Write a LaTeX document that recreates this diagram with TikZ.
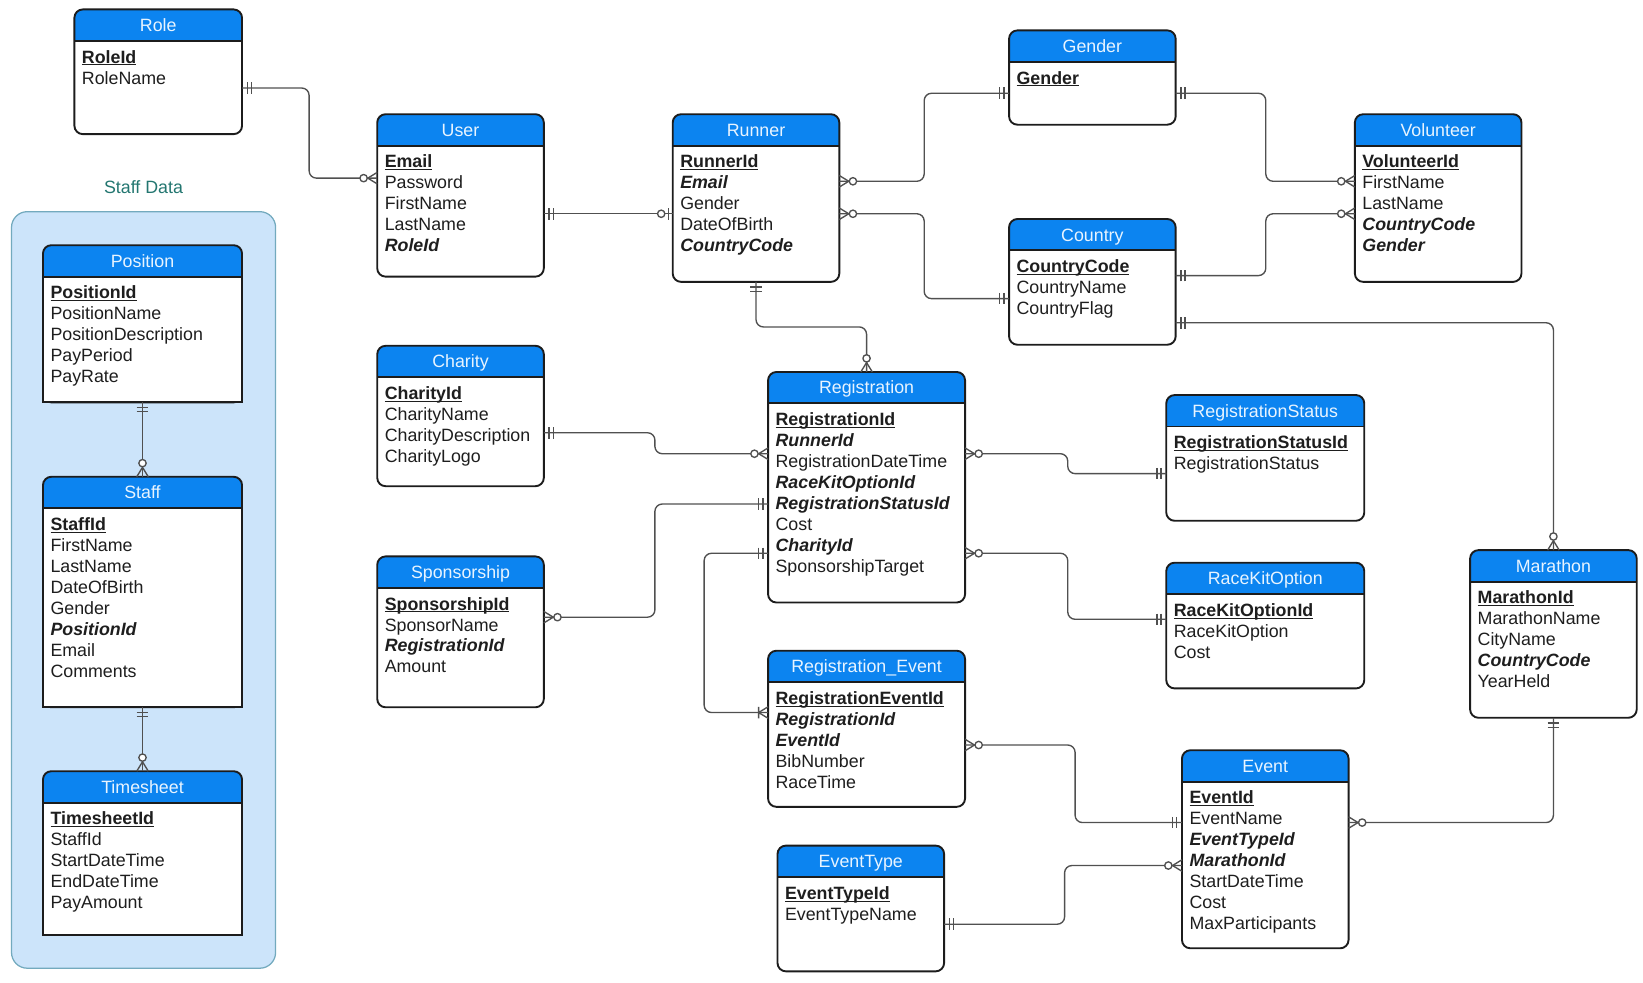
\documentclass[tikz,border=0pt]{standalone}
\usepackage{fontspec}
\setmainfont{Liberation Sans}

\definecolor{hdrblue}{RGB}{12,132,240}
\definecolor{hdrtext}{RGB}{232,244,255}
\definecolor{tblborder}{RGB}{28,28,28}
\definecolor{fieldtext}{RGB}{30,30,30}
\definecolor{connline}{RGB}{80,80,80}
\definecolor{panelfill}{RGB}{204,228,250}
\definecolor{panelborder}{RGB}{115,170,190}
\definecolor{paneltext}{RGB}{35,118,112}

\newcommand\fieldfont{\fontsize{17}{20}\selectfont}
\newcommand\pk[1]{\underline{\smash{\textbf{#1}}}}
\newcommand\fk[1]{\textbf{\textit{#1}}}

%% crow's foot ends
\pgfdeclarearrow{
  name = one,
  parameters = {\the\pgflinewidth},
  setup code = {
    \pgfarrowssettipend{0pt}
    \pgfarrowssetlineend{0pt}
    \pgfarrowssetbackend{-10pt}
    \pgfarrowshullpoint{0pt}{5.5pt}
    \pgfarrowshullpoint{0pt}{-5.5pt}
    \pgfarrowshullpoint{-10pt}{5.5pt}
    \pgfarrowshullpoint{-10pt}{-5.5pt}
  },
  drawing code = {
    \pgfpathmoveto{\pgfqpoint{-5pt}{5.5pt}}
    \pgfpathlineto{\pgfqpoint{-5pt}{-5.5pt}}
    \pgfpathmoveto{\pgfqpoint{-9pt}{5.5pt}}
    \pgfpathlineto{\pgfqpoint{-9pt}{-5.5pt}}
    \pgfusepathqstroke
  }
}
\pgfdeclarearrow{
  name = zmany,
  parameters = {\the\pgflinewidth},
  setup code = {
    \pgfarrowssettipend{0pt}
    \pgfarrowssetlineend{0pt}
    \pgfarrowssetbackend{-17pt}
    \pgfarrowshullpoint{0pt}{5.5pt}
    \pgfarrowshullpoint{0pt}{-5.5pt}
    \pgfarrowshullpoint{-17pt}{3.5pt}
    \pgfarrowshullpoint{-17pt}{-3.5pt}
  },
  drawing code = {
    \pgfsetroundjoin
    \pgfpathmoveto{\pgfqpoint{0pt}{5.5pt}}
    \pgfpathlineto{\pgfqpoint{-9pt}{0pt}}
    \pgfpathlineto{\pgfqpoint{0pt}{-5.5pt}}
    \pgfusepathqstroke
    \pgfsetfillcolor{white}
    \pgfpathcircle{\pgfqpoint{-13pt}{0pt}}{3.5pt}
    \pgfusepathqfillstroke
  }
}
\pgfdeclarearrow{
  name = zone,
  parameters = {\the\pgflinewidth},
  setup code = {
    \pgfarrowssettipend{0pt}
    \pgfarrowssetlineend{0pt}
    \pgfarrowssetbackend{-15pt}
    \pgfarrowshullpoint{0pt}{5.5pt}
    \pgfarrowshullpoint{0pt}{-5.5pt}
    \pgfarrowshullpoint{-15pt}{3.5pt}
    \pgfarrowshullpoint{-15pt}{-3.5pt}
  },
  drawing code = {
    \pgfpathmoveto{\pgfqpoint{-4pt}{5.5pt}}
    \pgfpathlineto{\pgfqpoint{-4pt}{-5.5pt}}
    \pgfusepathqstroke
    \pgfsetfillcolor{white}
    \pgfpathcircle{\pgfqpoint{-11pt}{0pt}}{3.5pt}
    \pgfusepathqfillstroke
  }
}
\pgfdeclarearrow{
  name = omany,
  parameters = {\the\pgflinewidth},
  setup code = {
    \pgfarrowssettipend{0pt}
    \pgfarrowssetlineend{0pt}
    \pgfarrowssetbackend{-11pt}
    \pgfarrowshullpoint{0pt}{5.5pt}
    \pgfarrowshullpoint{0pt}{-5.5pt}
    \pgfarrowshullpoint{-11pt}{5.5pt}
    \pgfarrowshullpoint{-11pt}{-5.5pt}
  },
  drawing code = {
    \pgfsetroundjoin
    \pgfpathmoveto{\pgfqpoint{0pt}{5.5pt}}
    \pgfpathlineto{\pgfqpoint{-9pt}{0pt}}
    \pgfpathlineto{\pgfqpoint{0pt}{-5.5pt}}
    \pgfpathmoveto{\pgfqpoint{-9pt}{5.5pt}}
    \pgfpathlineto{\pgfqpoint{-9pt}{-5.5pt}}
    \pgfusepathqstroke
  }
}

\begin{document}
\begin{tikzpicture}
[x=1pt, y=-1pt,
  table/.style={draw=tblborder, line width=1.8pt, fill=white, rounded corners=8pt,
    anchor=north west, inner sep=0pt, outer sep=0pt,
    path picture={
      \fill[hdrblue, sharp corners] (path picture bounding box.north west)
        rectangle ([yshift=-30pt]path picture bounding box.north east);
      \draw[tblborder, line width=1.8pt, sharp corners]
        ([yshift=-30pt]path picture bounding box.north west)
        -- ([yshift=-30pt]path picture bounding box.north east);}},
  title/.style={anchor=base, inner sep=0pt, font=\fieldfont, text=hdrtext},
  fields/.style={anchor=north west, align=left, inner sep=0pt, font=\fieldfont, text=fieldtext},
  conn/.style={draw=connline, line width=1.3pt, rounded corners=7pt},
  panel/.style={draw=panelborder, line width=1.2pt, fill=panelfill, rounded corners=15pt,
    anchor=north west, inner sep=0pt, outer sep=0pt}]
\useasboundingbox (0,0) rectangle (1568,938);

%% staff group
\node[panel, minimum width=252pt, minimum height=722pt] (staffpanel) at (11,202) {};
\node[font=\fieldfont, text=paneltext] (stafflabel) at (137,179) {Staff Data};

%% tables
\foreach \nm/\ttl/\x/\y/\w/\h in {
  role/Role/71/9/160/119,
  user/User/360/109/159/155,
  runner/Runner/642/109/159/160,
  gender/Gender/963/29/159/90,
  volunteer/Volunteer/1293/109/159/160,
  country/Country/963/209/159/120,
  charity/Charity/360/330/159/134,
  registration/Registration/733/355/188/220,
  regstatus/RegistrationStatus/1113/377/189/120,
  sponsorship/Sponsorship/360/531/159/144,
  racekit/RaceKitOption/1113/537/189/120,
  marathon/Marathon/1403/525/159/160,
  regevent/Registration\_Event/733/621/188/149,
  event/Event/1128/716/159/189,
  eventtype/EventType/742/807/159/120,
  position/Position/41/234/190/150,
  staff/Staff/41/455/190/220,
  timesheet/Timesheet/41/736/190/156}
{
  \node[table, minimum width=\w pt, minimum height=\h pt] (\nm) at (\x,\y) {};
  \node[title] (\nm-title) at ([yshift=-21pt]\nm.north) {\ttl};
}

%% square bottoms inside the staff group
\foreach \nm in {position,staff,timesheet}
{
  \filldraw[fill=white, draw=tblborder, line width=1.8pt]
    ([yshift=10pt]\nm.south west) -- (\nm.south west)
    -- (\nm.south east) -- ([yshift=10pt]\nm.south east);
}

%% fields
\foreach \nm/\rows in {
  role/{\pk{RoleId}\\RoleName},
  user/{\pk{Email}\\Password\\FirstName\\LastName\\\fk{RoleId}},
  runner/{\pk{RunnerId}\\\fk{Email}\\Gender\\DateOfBirth\\\fk{CountryCode}},
  gender/{\pk{Gender}},
  volunteer/{\pk{VolunteerId}\\FirstName\\LastName\\\fk{CountryCode}\\\fk{Gender}},
  country/{\pk{CountryCode}\\CountryName\\CountryFlag},
  charity/{\pk{CharityId}\\CharityName\\CharityDescription\\CharityLogo},
  registration/{\pk{RegistrationId}\\\fk{RunnerId}\\RegistrationDateTime\\\fk{RaceKitOptionId}\\\fk{RegistrationStatusId}\\Cost\\\fk{CharityId}\\SponsorshipTarget},
  regstatus/{\pk{RegistrationStatusId}\\RegistrationStatus},
  sponsorship/{\pk{SponsorshipId}\\SponsorName\\\fk{RegistrationId}\\Amount},
  racekit/{\pk{RaceKitOptionId}\\RaceKitOption\\Cost},
  marathon/{\pk{MarathonId}\\MarathonName\\CityName\\\fk{CountryCode}\\YearHeld},
  regevent/{\pk{RegistrationEventId}\\\fk{RegistrationId}\\\fk{EventId}\\BibNumber\\RaceTime},
  event/{\pk{EventId}\\EventName\\\fk{EventTypeId}\\\fk{MarathonId}\\StartDateTime\\Cost\\MaxParticipants},
  eventtype/{\pk{EventTypeId}\\EventTypeName},
  position/{\pk{PositionId}\\PositionName\\PositionDescription\\PayPeriod\\PayRate},
  staff/{\pk{StaffId}\\FirstName\\LastName\\DateOfBirth\\Gender\\\fk{PositionId}\\Email\\Comments},
  timesheet/{\pk{TimesheetId}\\StaffId\\StartDateTime\\EndDateTime\\PayAmount}}
{
  \node[fields] (\nm-fields) at ([xshift=7pt,yshift=-37pt]\nm.north west) {\strut\rows};
}

%% relationships
\draw[conn, one-zmany] (role.east |- 0,84) -- (295,84) -- (295,170) -- (user.west |- 0,170);
\draw[conn, one-zone] (user.east |- 0,204) -- (runner.west |- 0,204);
\draw[conn, zmany-one] (runner.east |- 0,173) -- (882,173) -- (882,89) -- (gender.west |- 0,89);
\draw[conn, zmany-one] (runner.east |- 0,204) -- (882,204) -- (882,285) -- (country.west |- 0,285);
\draw[conn, one-zmany] (gender.east |- 0,89) -- (1208,89) -- (1208,173) -- (volunteer.west |- 0,173);
\draw[conn, one-zmany] (country.east |- 0,263) -- (1208,263) -- (1208,204) -- (volunteer.west |- 0,204);
\draw[conn, one-zmany] (country.east |- 0,308) -| (marathon.north);
\draw[conn, one-zmany] (runner.south) -- ++(0,43) -| (registration.north);
\draw[conn, one-zmany] (charity.east |- 0,413) -- (625,413) -- (625,433) -- (registration.west |- 0,433);
\draw[conn, zmany-one] (registration.east |- 0,433) -- (1019,433) -- (1019,452) -- (regstatus.west |- 0,452);
\draw[conn, one-zmany] (registration.west |- 0,481) -- (625,481) -- (625,589) -- (sponsorship.east |- 0,589);
\draw[conn, one-omany] (registration.west |- 0,528) -- (672,528) -- (672,680) -- (regevent.west |- 0,680);
\draw[conn, zmany-one] (registration.east |- 0,528) -- (1019,528) -- (1019,591) -- (racekit.west |- 0,591);
\draw[conn, zmany-one] (regevent.east |- 0,711) -- (1026,711) -- (1026,785) -- (event.west |- 0,785);
\draw[conn, zmany-one] (event.east |- 0,785) -| (marathon.south);
\draw[conn, one-zmany] (eventtype.east |- 0,882) -- (1016,882) -- (1016,826) -- (event.west |- 0,826);
\draw[conn, one-zmany] (position.south) -- (staff.north);
\draw[conn, one-zmany] (staff.south) -- (timesheet.north);
\end{tikzpicture}
\end{document}
